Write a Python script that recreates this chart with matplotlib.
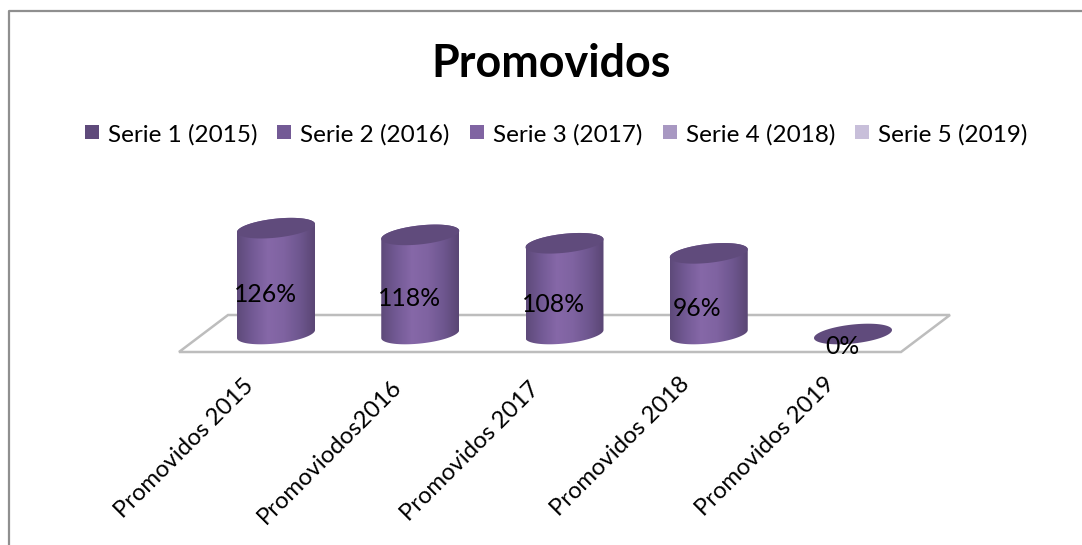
import numpy as np
import matplotlib
matplotlib.use("Agg")
import matplotlib.pyplot as plt
from matplotlib.patches import Polygon, Rectangle
from matplotlib.colors import LinearSegmentedColormap

categories = ["Promovidos 2015", "Promoviodos2016", "Promovidos 2017", "Promovidos 2018", "Promovidos 2019"]
values = [126, 118, 108, 96, 0]
value_labels = ["126%", "118%", "108%", "96%", "0%"]
series = ["Serie 1 (2015)", "Serie 2 (2016)", "Serie 3 (2017)", "Serie 4 (2018)", "Serie 5 (2019)"]
series_colors = ["#5f4a7b", "#735a95", "#8064a2", "#a898c2", "#c8bfda"]
title = "Promovidos"

W, H = 1082, 545
plt.rcParams["font.family"] = ["Lato", "DejaVu Sans"]
fig = plt.figure(figsize=(W / 100, H / 100), dpi=100)
ax = fig.add_axes([0, 0, 1, 1])
ax.axis("off")

# Pixel layout of the plot scale
X0, DX = 276, 144.25
Y0, DY = 334, 0.84
ax.set_xlim(-X0 / DX, (W - X0) / DX)
ax.set_ylim((Y0 - H) / DY, Y0 / DY)

def px(x, y):
    """figure pixel (top-left origin) to data coordinates"""
    return x / DX + ax.get_xlim()[0], (Y0 - y) / DY

def pxline(xs, ys, **kw):
    d = [px(a, b) for a, b in zip(xs, ys)]
    ax.plot([p[0] for p in d], [p[1] for p in d], solid_capstyle="projecting", **kw)

# Frame: left and top edges only, the rest is cropped away
pxline([8.5, 8.5, 1082], [545, 10.5, 10.5], color="#8f8f8f", lw=1.6, zorder=1)

# Floor
floor = [(179, 352), (228, 315), (950, 315), (901, 352)]
ax.add_patch(Polygon([px(*p) for p in floor], closed=True, fc="white", ec="#bdbdbd", lw=1.8, zorder=2))

grad = LinearSegmentedColormap.from_list("cyl", ["#5e4a7a", "#735a95", "#8668a8", "#7f63a1", "#6f5790", "#5a4674"])
A, B, TILT = 39.0, 9.5, 4.0 / 39.0

def ellipse(cx, cy, t):
    return cx + A * np.cos(t), cy + B * np.sin(t) - A * np.cos(t) * TILT

for i, v in enumerate(values):
    cx = X0 + DX * i
    ytop = Y0 - DY * v
    if v > 0:
        xb, yb = ellipse(cx, Y0, np.linspace(0, np.pi, 80))
        xt, yt = ellipse(cx, ytop, np.linspace(np.pi, 2 * np.pi, 80))
        outline = [px(a, b) for a, b in zip(np.r_[xb, xt], np.r_[yb, yt])]
        clip = Polygon(outline, closed=True, transform=ax.transData, fc="none", ec="none")
        ax.add_patch(clip)
        x1, y1 = px(cx - A, ytop - 30)
        x2, y2 = px(cx + A, Y0 + 30)
        im = ax.imshow(np.linspace(0, 1, 200)[None, :], cmap=grad, aspect="auto",
                       extent=(x1, x2, y2, y1), zorder=3, interpolation="bilinear", origin="upper")
        im.set_clip_path(clip)
    xe, ye = ellipse(cx, ytop, np.linspace(0, 2 * np.pi, 160))
    ax.add_patch(Polygon([px(a, b) for a, b in zip(xe, ye)], closed=True, fc="#604b7c", ec="none", zorder=4))

# keep limits after imshow
ax.set_xlim(-X0 / DX, (W - X0) / DX)
ax.set_ylim((Y0 - H) / DY, Y0 / DY)
ax.set_aspect("auto")

# Value labels
label_pos = [(266, 295), (410, 299), (554, 304), (697, 308), (842, 347)]
for (lx, ly), s in zip(label_pos, value_labels):
    ax.text(*px(lx, ly), s, fontsize=17.8, color="black", ha="center", va="center", zorder=6)

# Category labels, rotated 45 degrees, right end under each column
label_ends = [(250, 383), (398, 383), (536, 386), (686, 381), (831, 381)]
for (lx, ly), s in zip(label_ends, categories):
    ax.text(*px(lx, ly), s, fontsize=17.2, rotation=45, rotation_mode="anchor",
            ha="right", va="center", color="black", zorder=6)

# Title
ax.text(*px(551, 64), title, fontsize=32.3, fontweight="bold", ha="center", va="center", color="black")

# Legend
leg_x = [85, 277, 470, 663, 855]
for lx, s, c in zip(leg_x, series, series_colors):
    x0, y0 = px(lx, 139)
    x1, y1 = px(lx + 14, 125)
    ax.add_patch(Rectangle((x0, y0), x1 - x0, y1 - y0, fc=c, ec="none", zorder=5))
    ax.text(*px(lx + 23, 135), s, fontsize=17.5, ha="left", va="center", color="black")

fig.savefig("out.png", dpi=100, facecolor="white")
